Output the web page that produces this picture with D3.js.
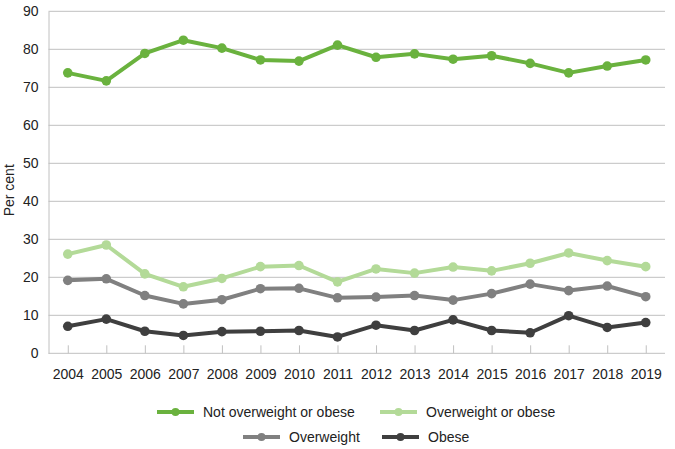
<!DOCTYPE html>
<html><head><meta charset="utf-8">
<script src="https://cdn.jsdelivr.net/npm/d3@7"></script>
<style>body{margin:0;background:#fff}svg{display:block;font-family:"Liberation Sans",Arial,sans-serif}</style>
</head><body><svg id="c" width="675" height="449"></svg>
<script>
const years = ["2004","2005","2006","2007","2008","2009","2010","2011","2012","2013","2014","2015","2016","2017","2018","2019"];
const notOverweight = [73.8,71.7,78.9,82.4,80.3,77.2,76.9,81.1,77.9,78.8,77.4,78.3,76.3,73.8,75.6,77.2];
const overweightOrObese = [26.1,28.5,20.9,17.5,19.7,22.8,23.1,18.8,22.2,21.1,22.7,21.7,23.7,26.4,24.4,22.8];
const overweight = [19.2,19.6,15.2,13.0,14.1,17.0,17.1,14.6,14.8,15.2,14.0,15.7,18.2,16.5,17.7,14.9];
const obese = [7.1,9.0,5.8,4.7,5.7,5.8,6.0,4.3,7.4,6.0,8.8,6.0,5.4,9.9,6.8,8.1];
const seriesNames = ["Not overweight or obese","Overweight or obese","Overweight","Obese"];
const seriesColors = ["#6ab23e","#b3da98","#808080","#3f3f3f"];
const yTicks = [0,10,20,30,40,50,60,70,80,90];

const svg = d3.select("#c");
const L = 48.5, R = 665, T = 11.3, B = 353.3;
const x = d3.scalePoint().domain(years).range([L, R]).padding(0.5);
const y = d3.scaleLinear().domain([0, 90]).range([B, T]);

// gridlines
svg.append("g").selectAll("line").data(yTicks.filter(d => d > 0)).join("line")
  .attr("x1", L).attr("x2", R).attr("y1", d => y(d)).attr("y2", d => y(d))
  .attr("stroke", "#c0c0c0").attr("stroke-width", 1);

// y axis
const ya = svg.append("g").attr("transform", `translate(${L},0)`)
  .call(d3.axisLeft(y).tickValues(yTicks).tickSize(0).tickPadding(10));
ya.select(".domain").attr("stroke", "#c0c0c0");
ya.selectAll("text").attr("font-size", 14).attr("fill", "#222").attr("font-family", "Liberation Sans, Arial, sans-serif");

// x axis
const xa = svg.append("g").attr("transform", `translate(0,${B})`)
  .call(d3.axisBottom(x).tickSize(-8).tickPadding(16));
xa.select(".domain").attr("d", `M${L},0H${R}`).attr("stroke", "#c0c0c0");
xa.selectAll(".tick line").attr("stroke", "#c0c0c0");
xa.selectAll("text").attr("font-size", 14).attr("fill", "#222").attr("font-family", "Liberation Sans, Arial, sans-serif");

// y label
svg.append("text").attr("transform", `translate(14,${(T + B) / 2 + 8}) rotate(-90)`)
  .attr("text-anchor", "middle").attr("font-size", 14).attr("fill", "#222").text("Per cent");

const allSeries = [notOverweight, overweightOrObese, overweight, obese];
const line = d3.line().x((d, i) => x(years[i])).y(d => y(d));
// draw in reverse so top series on top
allSeries.forEach((s, k) => {
  const g = svg.append("g");
  g.append("path").datum(s).attr("d", line).attr("fill", "none")
    .attr("stroke", seriesColors[k]).attr("stroke-width", 4).attr("stroke-linejoin", "round");
  g.selectAll("circle").data(s).join("circle")
    .attr("cx", (d, i) => x(years[i])).attr("cy", d => y(d)).attr("r", 4.8)
    .attr("fill", seriesColors[k]);
});

// legend
const legendPos = [[157, 412], [380, 412], [243, 437], [382, 437]];
seriesNames.forEach((n, k) => {
  const [lx, ly] = legendPos[k];
  const g = svg.append("g").attr("transform", `translate(${lx},${ly})`);
  g.append("line").attr("x1", 0).attr("x2", 37).attr("y1", 0).attr("y2", 0)
    .attr("stroke", seriesColors[k]).attr("stroke-width", 4);
  g.append("circle").attr("cx", 18.5).attr("cy", 0).attr("r", 4).attr("fill", seriesColors[k]);
  g.append("text").attr("x", 46).attr("y", 5).attr("font-size", 14).attr("fill", "#222").text(n);
});
</script></body></html>
